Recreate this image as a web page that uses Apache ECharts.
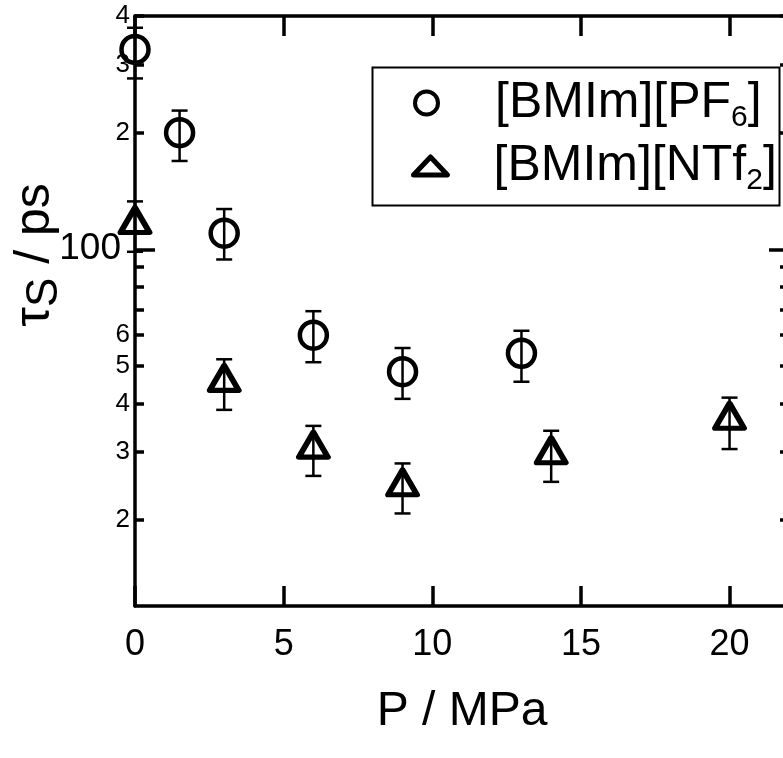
<!DOCTYPE html>
<html><head><meta charset="utf-8">
<script src="https://cdn.jsdelivr.net/npm/echarts@6/dist/echarts.min.js"></script>
<style>html,body{margin:0;padding:0;background:#fff}#c{width:783px;height:758px}</style>
</head><body><div id="c"></div>
<script>
// ---- data ----
const pressurePF6 = [0, 1.5, 3, 6, 9, 13];
const tauPF6 = [328, 200, 110, 60, 48.3, 53.9];
const tauPF6Hi = [373, 228, 127, 69.2, 55.6, 61.6];
const tauPF6Lo = [276, 169, 94.1, 51.1, 41.1, 45.5];
const pressureNTf2 = [0, 3, 6, 9, 14, 20];
const tauNTf2 = [115.5, 45.2, 30.4, 24.3, 29.4, 36.1];
const tauNTf2Hi = [132.9, 52.0, 35.0, 28.0, 34.0, 41.4];
const tauNTf2Lo = [98.5, 38.5, 26.0, 20.8, 25.1, 30.5];
const xTicks = [0, 5, 10, 15, 20];
const yMajorTicks = [100];
const yMinorTicks = [20, 30, 40, 50, 60, 70, 80, 90, 200, 300, 400];
const yMinorLabels = [20, 30, 40, 50, 60, 200, 300, 400];

const FONT = "'Liberation Sans', Arial, sans-serif";
const chart = echarts.init(document.getElementById('c'), null, {renderer: 'canvas'});

function errItem(params, api) {
  const x = api.value(0), lo = api.value(1), hi = api.value(2);
  const a = api.coord([x, hi]), b = api.coord([x, lo]);
  const w = 8, st = {stroke: '#000', lineWidth: 2.5};
  return {type: 'group', children: [
    {type: 'line', shape: {x1: a[0], y1: a[1], x2: b[0], y2: b[1]}, style: st},
    {type: 'line', shape: {x1: a[0] - w, y1: a[1], x2: a[0] + w, y2: a[1]}, style: st},
    {type: 'line', shape: {x1: b[0] - w, y1: b[1], x2: b[0] + w, y2: b[1]}, style: st}
  ]};
}

const axisLine = {show: true, lineStyle: {color: '#000', width: 3.5}};
const xBase = {
  type: 'value', min: 0, max: 22, splitLine: {show: false},
  axisLine: axisLine,
  axisTick: {show: true, inside: true, length: 20, customValues: xTicks, lineStyle: {color: '#000', width: 3.5}}
};
const yBase = {type: 'log', logBase: 10, min: 12, max: 400, splitLine: {show: false}};

const option = {
  animation: false,
  backgroundColor: '#fff',
  grid: {left: 135, right: -6, top: 16, bottom: 152, containLabel: false, outerBoundsMode: 'none'},
  xAxis: [
    Object.assign({}, xBase, {
      position: 'bottom',
      axisLabel: {show: true, customValues: xTicks, fontSize: 36, color: '#000', fontFamily: FONT, margin: 21},
      name: 'P / MPa', nameLocation: 'middle', nameGap: 82, nameMoveOverlap: false,
      nameTextStyle: {fontSize: 48, color: '#000', fontFamily: FONT}
    }),
    Object.assign({}, xBase, {position: 'top', axisLabel: {show: false}})
  ],
  yAxis: [
    Object.assign({}, yBase, {
      position: 'left', axisLine: axisLine,
      axisTick: {show: true, inside: true, length: 20, customValues: yMajorTicks, lineStyle: {color: '#000', width: 3.5}},
      axisLabel: {show: true, customValues: yMajorTicks, fontSize: 37, color: '#000', fontFamily: FONT, margin: 14,
        formatter: v => String(Math.round(v))},
      name: '{a|τ}{s|S}{a| / ps}', nameLocation: 'middle', nameGap: 68, nameMoveOverlap: false,
      nameTextStyle: {color: '#000', fontFamily: FONT, padding: [0, 0, 0, 112],
        rich: {a: {fontSize: 50, lineHeight: 64, fontFamily: FONT, color: '#000'},
               s: {fontSize: 44, lineHeight: 20, verticalAlign: 'bottom', fontFamily: FONT, color: '#000'}}}
    }),
    Object.assign({}, yBase, {
      position: 'left', axisLine: {show: false},
      axisTick: {show: true, inside: true, length: 9, customValues: yMinorTicks, lineStyle: {color: '#000', width: 3.5}},
      axisLabel: {show: true, customValues: yMinorLabels, fontSize: 26, color: '#000', fontFamily: FONT, margin: 5,
        formatter: v => String(Math.round(v)).charAt(0)}
    }),
    Object.assign({}, yBase, {
      position: 'right', axisLine: axisLine,
      axisTick: {show: true, inside: true, length: 20, customValues: yMajorTicks, lineStyle: {color: '#000', width: 3.5}},
      axisLabel: {show: false}
    }),
    Object.assign({}, yBase, {
      position: 'right', axisLine: {show: false},
      axisTick: {show: true, inside: true, length: 9, customValues: yMinorTicks, lineStyle: {color: '#000', width: 3.5}},
      axisLabel: {show: false}
    })
  ],
  legend: [
    {
      left: 413, top: 78, padding: 0, orient: 'vertical',
      itemWidth: 23, itemHeight: 23, selectedMode: false,
      data: [{name: 'PF6', icon: 'circle', itemStyle: {color: 'rgba(0,0,0,0)', borderColor: '#000', borderWidth: 4}}],
      formatter: '{a|[BMIm][PF}{s|6}{a|]}',
      textStyle: {padding: [0, 0, 0, 52], rich: {
        a: {fontSize: 50, lineHeight: 60, fontFamily: FONT, color: '#000'},
        s: {fontSize: 30, lineHeight: 18, verticalAlign: 'bottom', fontFamily: FONT, color: '#000'}}}
    },
    {
      left: 411, top: 141, padding: 0, orient: 'vertical',
      itemWidth: 34, itemHeight: 18, selectedMode: false,
      data: [{name: 'NTf2', icon: 'triangle', itemStyle: {color: 'rgba(0,0,0,0)', borderColor: '#000', borderWidth: 5, borderJoin: 'round'}}],
      formatter: '{a|[BMIm][NTf}{s|2}{a|]}',
      textStyle: {padding: [0, 0, 0, 41], rich: {
        a: {fontSize: 50, lineHeight: 60, fontFamily: FONT, color: '#000'},
        s: {fontSize: 30, lineHeight: 14, verticalAlign: 'bottom', fontFamily: FONT, color: '#000'}}}
    }
  ],
  graphic: [{
    type: 'rect', left: 370, top: 65, z: 10,
    shape: {width: 407, height: 138},
    style: {fill: 'none', stroke: '#000', lineWidth: 2}
  }],
  series: [
    {
      type: 'custom', name: 'errPF6', xAxisIndex: 0, yAxisIndex: 0, clip: false,
      renderItem: errItem, encode: {x: 0, y: [1, 2]},
      data: pressurePF6.map((p, i) => [p, tauPF6Lo[i], tauPF6Hi[i]]), silent: true
    },
    {
      type: 'custom', name: 'errNTf2', xAxisIndex: 0, yAxisIndex: 0, clip: false,
      renderItem: errItem, encode: {x: 0, y: [1, 2]},
      data: pressureNTf2.map((p, i) => [p, tauNTf2Lo[i], tauNTf2Hi[i]]), silent: true
    },
    {
      type: 'scatter', name: 'PF6', xAxisIndex: 0, yAxisIndex: 0, clip: false,
      symbol: 'circle', symbolSize: 27,
      itemStyle: {color: 'rgba(0,0,0,0)', borderColor: '#000', borderWidth: 4.5, opacity: 1},
      data: pressurePF6.map((p, i) => [p, tauPF6[i]])
    },
    {
      type: 'scatter', name: 'NTf2', xAxisIndex: 0, yAxisIndex: 0, clip: false,
      symbol: 'triangle', symbolSize: [29, 25], symbolOffset: [0, -5],
      itemStyle: {color: 'rgba(0,0,0,0)', borderColor: '#000', borderWidth: 5.5, borderJoin: 'round', opacity: 1},
      data: pressureNTf2.map((p, i) => [p, tauNTf2[i]])
    }
  ]
};
chart.setOption(option);
</script></body></html>
